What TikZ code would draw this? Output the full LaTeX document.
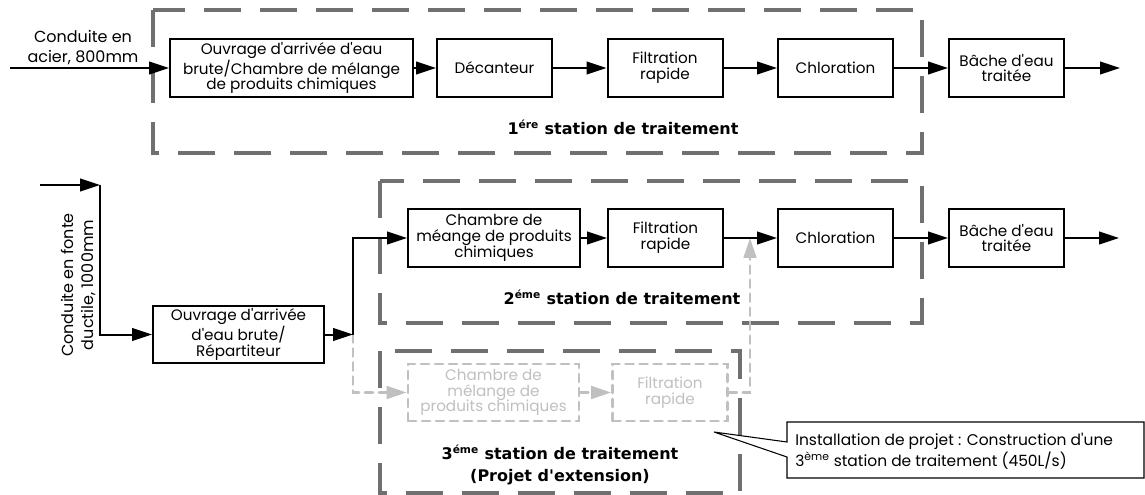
\documentclass[tikz,border=0pt]{standalone}
\usepackage{fontspec}
\setmainfont{Poppins}
\newfontfamily\stationfont{DejaVu Sans}
\usetikzlibrary{arrows.meta}
\usetikzlibrary{calc}
\definecolor{framegray}{RGB}{112,112,112}
\definecolor{ghostgray}{RGB}{192,192,192}
\newcommand{\ap}{\textquotesingle}

\begin{document}
\begin{tikzpicture}[x=0.75pt,y=-0.75pt,
		proc/.style={draw,line width=1.5pt,fill=white,align=center,inner sep=0pt,
			minimum width=86.25pt,minimum height=43.5pt,font=\fontsize{11.4}{11.8}\selectfont},
		ghost/.style={proc,draw=ghostgray,text=ghostgray,line width=2pt,line cap=round,
			dash pattern=on 6pt off 4.5pt},
		flow/.style={-{Triangle[length=15pt,width=9.5pt]},line width=1.5pt},
		gflow/.style={flow,draw=ghostgray,line width=2pt,line cap=round,dash pattern=on 6pt off 4.5pt},
		station/.style={draw=framegray,line width=3pt,dash pattern=on 28pt off 14pt},
		stlabel/.style={font=\stationfont\bfseries\fontsize{12}{17}\selectfont,align=center},
		pipetext/.style={font=\fontsize{12}{15}\selectfont,align=center,inner sep=0pt}]
		\useasboundingbox (0,0) rectangle (1145,495);
		\draw[station] (153,10) rectangle (922,153);
		\draw[station] (380,181) rectangle (922,323);
		\draw[station] (380,351) rectangle (740,493);
		\node[proc,minimum width=182.25pt] (inlet) at (291.5,68) {Ouvrage d\ap arrivée d\ap eau\\brute/Chambre de mélange\\de produits chimiques};
		\node[proc] (decant) at (494.5,68) {Décanteur};
		\node[proc] (filtA) at (665,68) {Filtration\\rapide};
		\node[proc] (chlA) at (835.5,68) {Chloration};
		\node[proc] (tankA) at (1006.5,68) {Bâche d\ap eau\\traitée};
		\node[proc,minimum width=128.25pt,minimum height=42.75pt] (split) at (238.5,334.5) {Ouvrage d\ap arrivée\\d\ap eau brute/\\Répartiteur};
		\node[proc,minimum width=129pt] (mixB) at (494,238) {Chambre de\\méange de produits\\chimiques};
		\node[proc] (filtB) at (665.5,238) {Filtration\\rapide};
		\node[proc] (chlB) at (835.5,238) {Chloration};
		\node[proc] (tankB) at (1006.5,238) {Bâche d\ap eau\\traitée};
		\node[ghost,minimum width=128.25pt,minimum height=42.75pt] (mixC) at (493.5,392.5) {Chambre de\\mélange de\\produits chimiques};
		\node[ghost,minimum height=42.75pt] (filtC) at (670,392.5) {Filtration\\rapide};
		\coordinate (srcA) at (10,68);
		\coordinate (outA) at (1120,68);
		\coordinate (srcB) at (40,185);
		\coordinate (bendB) at (100,185);
		\coordinate (spl) at (353,334.5);
		\coordinate (outB) at (1119,238);
		\coordinate (join) at (750,238);
		\draw[flow] (srcA) -- (inlet);
		\draw[flow] (inlet) -- (decant);
		\draw[flow] (decant) -- (filtA);
		\draw[flow] (filtA) -- (chlA);
		\draw[flow] (chlA) -- (tankA);
		\draw[flow] (tankA) -- (outA);
		\draw[gflow] (spl) |- (mixC);
		\draw[gflow] (mixC) -- (filtC);
		\draw[gflow] (filtC) -| (join);
		\draw[flow] (srcB) -- (bendB);
		\draw[flow] (bendB) |- (split);
		\draw[flow] (split) -- (spl);
		\draw[flow] (spl) |- (mixB);
		\draw[flow] (mixB) -- (filtB);
		\draw[flow] (filtB) -- (chlB);
		\draw[flow] (chlB) -- (tankB);
		\draw[flow] (tankB) -- (outB);
		\node[pipetext] (pipeA) at (83,48) {Conduite en\\acier, 800mm};
		\node[pipetext,rotate=90] (pipeB) at (79,285) {Conduite en fonte\\ductile, 1000mm};
		\node[stlabel] (stA) at (623,127) {1\textsuperscript{ére} station de traitement};
		\node[stlabel] (stB) at (622,297) {2\textsuperscript{éme} station de traitement};
		\node[stlabel] (stC) at (560,465) {3\textsuperscript{éme} station de traitement\\(Projet d\ap extension)};
		\node[pipetext,font=\fontsize{11.6}{15.5}\selectfont,align=left,anchor=west] (note) at (795,451) {Installation de projet : Construction d\ap une\\3\textsuperscript{ème} station de traitement (450L/s)};
		\coordinate (tip) at (714,432);
		\draw[line width=0.8pt] (787,442) -- (tip) -- (787,457) |- (1144,478) |- (787,422) -- cycle;
	\end{tikzpicture}
\end{document}
